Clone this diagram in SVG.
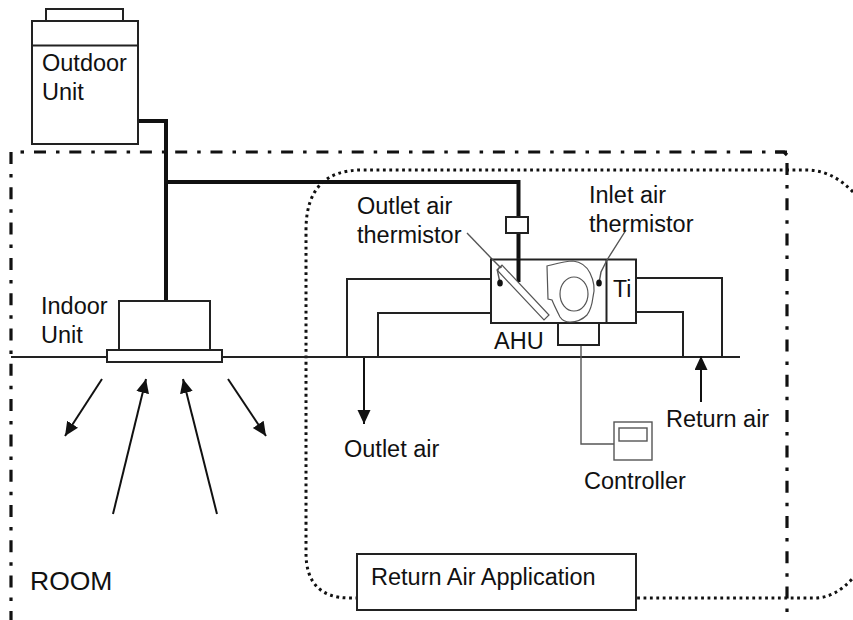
<svg xmlns="http://www.w3.org/2000/svg" width="853" height="620" viewBox="0 0 853 620">
<style>
text{font-family:"Liberation Sans",Arial,sans-serif;font-size:23.5px;fill:#111}
.s{fill:none;stroke:#222;stroke-width:2}
.w{fill:#fff;stroke:#222;stroke-width:2}
.t{fill:none;stroke:#111;stroke-width:4}
.g{fill:none;stroke:#555;stroke-width:1.4}
.a{fill:none;stroke:#111;stroke-width:2;marker-end:url(#ah)}
.d{fill:none;stroke:#111;stroke-width:3.2;stroke-dasharray:12 10 3.5 9.8}
</style>
<defs><marker id="ah" markerUnits="userSpaceOnUse" markerWidth="16" markerHeight="14" refX="14" refY="6.5" orient="auto"><path d="M0 0L14 6.500L0 13Z" fill="#111"/></marker></defs>
<rect width="853" height="620" fill="#fff"/>
<g id="room"><path class="d" d="M11 152V620"/><path class="d" d="M34 152H787"/><path d="M20.500 152H24" fill="none" stroke="#111" stroke-width="3.2"/><path class="d" d="M787 163V620"/><path d="M775 152H784L787 155" fill="none" stroke="#111" stroke-width="3.2"/><text x="30" y="590" style="font-size:26.500px">ROOM</text></g>
<g id="zone"><path d="M853 192Q832 170 806 170H362Q306 170 306 230V553Q306 598 350 598H815Q835 598 853 578" fill="none" stroke="#111" stroke-width="3" stroke-dasharray="2.8 3.6"/></g>
<g id="connectors">
<path class="t" d="M137 121H166V300M166 182H518.500V218M518.500 233V282"/>
<path class="s" d="M11 357H106M222 357H740"/>
<path class="s" d="M491 279H347V357M491 313H378V357M636 278H722V357M636 312H683V357"/>
<path class="g" d="M581 345V444H614"/>
<path class="g" d="M467 233L492 259"/>
<path class="a" d="M102 379L65 436"/><path class="a" d="M228 379L266 436"/>
<path class="a" d="M113 514L146 379"/><path class="a" d="M217 514L183 379"/>
<path class="a" d="M364 358V424"/><path class="a" d="M701 402V356"/>
</g>
<g id="outdoor-unit"><rect class="w" x="46" y="9" width="77" height="12"/><rect class="w" x="32" y="21" width="106" height="123"/><path class="s" d="M32 45.500H138"/><text x="42" y="70.500">Outdoor</text><text x="42" y="99.500">Unit</text></g>
<g id="indoor-unit"><rect class="w" x="119" y="301" width="91" height="49"/><rect class="w" x="107" y="350" width="115" height="12"/><text x="41" y="313.500">Indoor</text><text x="41" y="342.500">Unit</text></g>
<g id="valve"><rect class="w" x="506" y="217" width="22" height="16"/></g>
<g id="ahu">
<rect x="491" y="259.500" width="145" height="63.500" fill="#fff" stroke="#222" stroke-width="2"/><path class="s" d="M606.500 259.500V323"/>
<rect class="w" x="558" y="323" width="41" height="22"/>
<path class="t" d="M518.500 259V282"/>
<path d="M497 270L502 265L549 315L544 320Z" fill="#fff" stroke="#555" stroke-width="1.2"/>
<path class="g" d="M492 259L501 268"/>
<path d="M547 266C555 264 565 261 573 261C582 262 587 267 590 273C594 281 595 290 593 297C592 305 590 311 587 315C582 320 576 322 570 322C566 322 562 320 560 317C557 311 554 305 552 300L548 299Z" fill="#fff" stroke="#555" stroke-width="1.2"/>
<ellipse cx="574" cy="294" rx="14" ry="17" fill="#fff" stroke="#555" stroke-width="1.2"/>
<path class="g" d="M500 283L497.500 271Q499 266 502 267M599 283L601 272L607 260L626 230"/>
<ellipse cx="500" cy="283" rx="2.800" ry="3.500" fill="#111"/><ellipse cx="599" cy="283" rx="2.800" ry="3.500" fill="#111"/>
<text x="613" y="297" style="font-size:23px">Ti</text><text x="494" y="348.500">AHU</text>
</g>
<g id="controller"><rect x="614" y="422" width="38" height="38" fill="#fff" stroke="#555" stroke-width="1.4"/><rect x="619" y="428" width="28" height="13" fill="#fff" stroke="#555" stroke-width="1.4"/><text x="584" y="488.500">Controller</text></g>
<g id="labels"><text x="357" y="213.500">Outlet air</text><text x="357" y="242.500">thermistor</text><text x="589" y="202.500">Inlet air</text><text x="589" y="231.500">thermistor</text><text x="344" y="456.500">Outlet air</text><text x="666" y="426.500">Return air</text></g>
<g id="title"><rect class="w" x="357" y="554" width="279" height="56"/><text x="371" y="584.500">Return Air Application</text></g>
</svg>
